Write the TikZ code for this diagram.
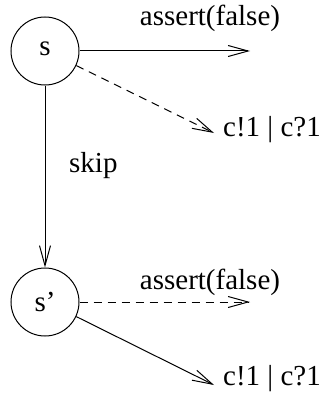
\documentclass[tikz,border=0pt]{standalone}
\usepackage{fontspec}
\setmainfont{Liberation Serif}
\usetikzlibrary{arrows.meta}
\begin{document}
\begin{tikzpicture}[x=1pt,y=-1pt,
  every node/.style={font=\fontsize{29}{31}\selectfont},
  state/.style={draw,circle,line width=1pt,minimum size=68pt,inner sep=0pt},
  trans/.style={line width=1pt,-{Straight Barb[length=20pt,width=11pt,line width=1pt]}},
  lbl/.style={anchor=base,inner sep=0pt}]
\useasboundingbox (0,0) rectangle (336,396);
% states
\node[state] (s) at (45,51) {\raisebox{5pt}{s}};
\node[state] (t) at (45,302) {\raisebox{-5pt}{s'}};
% free ends of the outgoing transitions
\coordinate (sa) at (250,51);
\coordinate (sc) at (214,133);
\coordinate (ta) at (250,302);
\coordinate (tc) at (214,385);
% transitions
\draw[trans] (s) -- (sa);
\draw[trans,dashed,dash pattern=on 8pt off 6pt] (s.-25) -- (sc);
\draw[trans] (s) -- (t);
\draw[trans,dashed,dash pattern=on 8pt off 6pt] (t) -- (ta);
\draw[trans] (t.-25) -- (tc);
% labels
\node[lbl] (la) at (210,26) {assert(false)};
\node[lbl,anchor=base west] (lc) at (223,136) {c!1 | c?1};
\node[lbl,anchor=base west] (lk) at (69,172) {skip};
\node[lbl] (la2) at (210,289) {assert(false)};
\node[lbl,anchor=base west] (lc2) at (223,385) {c!1 | c?1};
\end{tikzpicture}
\end{document}
